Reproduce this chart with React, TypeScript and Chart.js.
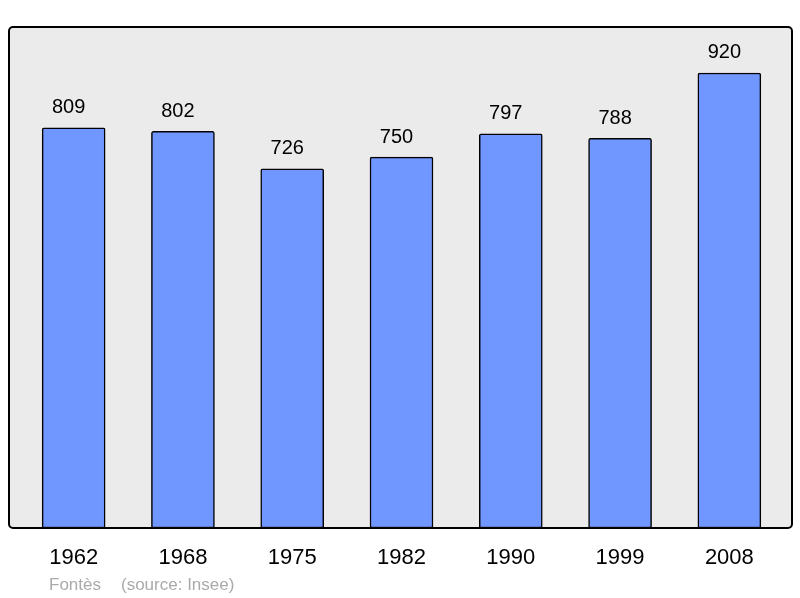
import React, { useEffect, useRef } from "react";
import { Chart, registerables } from "chart.js";

Chart.register(...registerables);

const years = ["1962", "1968", "1975", "1982", "1990", "1999", "2008"];
const population = [809, 802, 726, 750, 797, 788, 920];
const yMax = 1013;
const footerPlace = "Fontès";
const footerSource = "(source: Insee)";

const FONT = "'Liberation Sans', Arial, sans-serif";

function frameRect(chartArea: any) {
  const x = chartArea.left - 10;
  const y = chartArea.top;
  const w = chartArea.right + 8 - x;
  const h = chartArea.bottom - y;
  return { x, y, w, h };
}

const framePlugin = {
  id: "frame",
  beforeDraw(chart: any) {
    const { ctx, chartArea } = chart;
    const { x, y, w, h } = frameRect(chartArea);
    ctx.save();
    ctx.beginPath();
    ctx.roundRect(x, y, w, h, 4);
    ctx.fillStyle = "#ebebeb";
    ctx.fill();
    ctx.restore();
  },
  afterDatasetsDraw(chart: any) {
    const { ctx, chartArea } = chart;
    const { x, y, w, h } = frameRect(chartArea);
    ctx.save();
    const meta = chart.getDatasetMeta(0);
    ctx.font = `20px ${FONT}`;
    ctx.fillStyle = "#000";
    ctx.textAlign = "center";
    ctx.textBaseline = "alphabetic";
    meta.data.forEach((bar: any, i: number) => {
      ctx.fillText(String(chart.data.datasets[0].data[i]), bar.x - 5, bar.y - 14.5);
    });
    ctx.beginPath();
    ctx.roundRect(x, y, w, h, 4);
    ctx.lineWidth = 2;
    ctx.strokeStyle = "#000";
    ctx.stroke();
    ctx.restore();
  },
};

export default function App() {
  const ref = useRef<HTMLCanvasElement>(null);
  useEffect(() => {
    if (!ref.current) return;
    const chart = new Chart(ref.current, {
      type: "bar",
      data: {
        labels: years,
        datasets: [
          {
            data: population,
            backgroundColor: "#7096ff",
            borderColor: "#000",
            borderWidth: 1.5,
            borderRadius: 2,
            borderSkipped: false,
            barThickness: 63,
          },
        ],
      },
      options: {
        responsive: false,
        animation: false,
        layout: { padding: { left: 19, right: 16, top: 27, bottom: 0 } },
        plugins: {
          legend: { display: false },
          tooltip: { enabled: false },
          title: { display: false },
        },
        scales: {
          x: {
            offset: true,
            grid: { display: false },
            border: { display: false },
            ticks: {
              color: "#000",
              font: { size: 22, family: FONT },
              padding: 9,
              maxRotation: 0,
            },
            afterFit(scale: any) {
              scale.height = 70;
            },
          },
          y: {
            display: false,
            min: 0,
            max: yMax,
          },
        },
      },
      plugins: [framePlugin],
    });
    return () => chart.destroy();
  }, []);
  const footStyle: React.CSSProperties = {
    position: "absolute",
    top: 576,
    font: `17px ${FONT}`,
    lineHeight: "17px",
    color: "#aaaaaa",
    whiteSpace: "nowrap",
  };
  return (
    <div style={{ position: "absolute", left: 0, top: 0, width: 800, height: 598, background: "#fff" }}>
      <canvas ref={ref} width={800} height={598} style={{ display: "block" }} />
      <span style={{ ...footStyle, left: 49 }}>{footerPlace}</span>
      <span style={{ ...footStyle, left: 121 }}>{footerSource}</span>
    </div>
  );
}
